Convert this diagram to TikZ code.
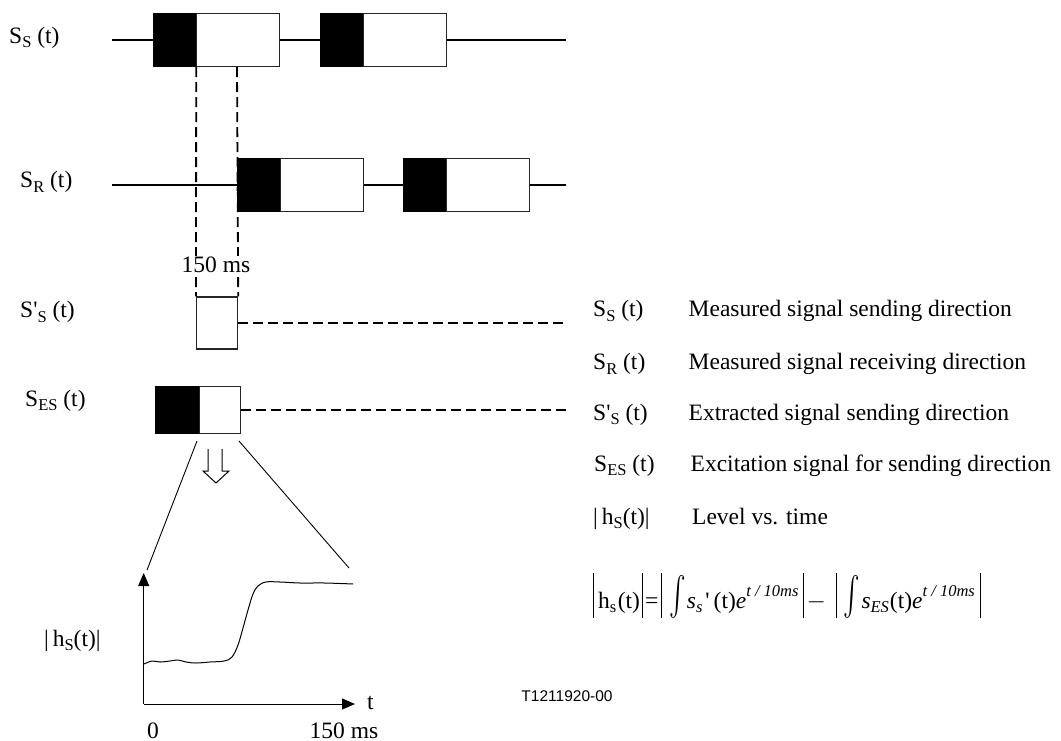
\documentclass[tikz,border=0pt]{standalone}
\usepackage{exscale}
\usepackage{fontspec}
\setmainfont{Liberation Serif}
\newfontfamily\arialfont{Liberation Sans}
\usetikzlibrary{arrows.meta,positioning}

\newcommand{\lowsub}[1]{\raisebox{-0.42ex}{\fontsize{16.5}{16.5}\selectfont #1}}
\newcommand{\expo}[1]{\raisebox{1.05ex}{\fontsize{16.5}{16.5}\selectfont #1}}
\newcommand{\bigint}{\raisebox{0.15ex}{\scalebox{1}[1.55]{$\int$}}}
\newcommand{\vbar}{\rule[-10pt]{1pt}{45pt}}

\begin{document}
\begin{tikzpicture}[
    x=1pt, y=-1pt,
    font=\fontsize{23.5}{28}\selectfont,
    blkpart/.style={rectangle, draw=black, fill=black, line width=1.2pt, inner sep=0pt, minimum width=42pt, minimum height=53pt, anchor=west},
    whtpart/.style={rectangle, draw=black!85, fill=white, line width=1.2pt, inner sep=0pt, minimum width=83pt, minimum height=53pt, anchor=west},
    sigline/.style={line width=1.9pt},
    dashline/.style={line width=1.8pt, dash pattern=on 10pt off 5pt},
    lbl/.style={anchor=base west, inner sep=0pt},
    axis/.style={-{Triangle[length=13pt,width=11pt]}, line width=1pt}
]
    \useasboundingbox (0,0) rectangle (1061,740);

    % Measured signal, sending direction
    \coordinate (ssL) at (112,40);
    \coordinate (ssR) at (566,40);
    \node (ss1a) [blkpart] at (153,40) {};
    \node (ss1b) [whtpart, right=0pt of ss1a] {};
    \node (ss2a) [blkpart] at (319.5,40) {};
    \node (ss2b) [whtpart, right=0pt of ss2a] {};
    \draw [sigline] (ssL) -- (ss1a.west);
    \draw [sigline] (ss1b.east) -- (ss2a.west);
    \draw [sigline] (ss2b.east) -- (ssR);

    % Measured signal, receiving direction
    \coordinate (srL) at (112,185);
    \coordinate (srR) at (566,185);
    \node (sr1a) [blkpart] at (237,185) {};
    \node (sr1b) [whtpart, right=0pt of sr1a] {};
    \node (sr2a) [blkpart] at (403,185) {};
    \node (sr2b) [whtpart, right=0pt of sr2a] {};
    \draw [sigline] (srL) -- (sr1a.west);
    \draw [sigline] (sr1b.east) -- (sr2a.west);
    \draw [sigline] (sr2b.east) -- (srR);

    % Extracted signal
    \node (sx) [whtpart, minimum width=41pt, minimum height=52pt] at (196,323) {};
    \coordinate (sxR) at (566,323);
    \draw [dashline] (sx.east) -- (sxR);
    \draw [dashline] (ss1a.south east) -- (sx.north west);
    \draw [dashline] (sr1a.north west |- ss1a.south) -- (sx.north east);
    \node (dur) [fill=white, inner sep=1pt] at (216,265) {150 ms};

    % Excitation signal
    \node (se1a) [blkpart, minimum width=43pt, minimum height=46.5pt] at (154.5,410) {};
    \node (se1b) [whtpart, minimum width=41.5pt, minimum height=46.5pt, right=0pt of se1a] {};
    \coordinate (seR) at (566,410);
    \draw [dashline] (se1b.east) -- (seR);

    % Zoom lines and hollow arrow
    \coordinate (zl1) at (197,441);
    \coordinate (zl2) at (147,570);
    \coordinate (zr1) at (239,441);
    \coordinate (zr2) at (349,568);
    \draw [line width=0.9pt] (zl1) -- (zl2);
    \draw [line width=0.9pt] (zr1) -- (zr2);
    \draw [line width=1pt] (208,449) -- (208,471) -- (203,471) -- (216,483)
        -- (229,471) -- (222,471) -- (222,449);

    % Level vs. time plot
    \coordinate (orig) at (143.7,704);
    \coordinate (ytop) at (143.7,573);
    \coordinate (xend) at (355,704);
    \draw [axis] (orig) -- (ytop);
    \draw [axis] (orig) -- (xend);
    \draw [line width=1pt] plot [smooth, tension=0.6] coordinates {
        (144,664) (152,661) (160,662) (170,661) (178,660) (186,662) (196,663)
        (210,662) (224,661) (232,657) (238,645) (243,628) (248,610) (253,594)
        (258,586) (266,582) (280,582) (300,583) (325,583) (353,584)};
    \node (tlab) [lbl] at (367,709) {t};
    \node (zero) [lbl, anchor=base] at (153,738) {0};
    \node (endt) [lbl, anchor=base] at (344,738) {150 ms};
    \node (hlab) [lbl] at (44,646) {|\,h\lowsub{S}(t)|};

    % Row labels
    \node (lss) [lbl] at (9,43) {S\lowsub{S} (t)};
    \node (lsr) [lbl] at (20,187.5) {S\lowsub{R} (t)};
    \node (lsx) [lbl] at (20,317.5) {S\textquotesingle\lowsub{S} (t)};
    \node (lse) [lbl] at (25,406) {S\lowsub{ES} (t)};

    % Legend
    \node (k1) [lbl] at (593,316.5) {S\lowsub{S} (t)};
    \node (d1) [lbl] at (688.5,316.5) {Measured signal sending direction};
    \node (k2) [lbl] at (593,369.5) {S\lowsub{R} (t)};
    \node (d2) [lbl] at (688.5,369.5) {Measured signal receiving direction};
    \node (k3) [lbl] at (593,420) {S\textquotesingle\lowsub{S} (t)};
    \node (d3) [lbl] at (688.5,420) {Extracted signal sending direction};
    \node (k4) [lbl] at (594,471) {S\lowsub{ES} (t)};
    \node (d4) [lbl] at (690.5,471) {Excitation signal for sending direction};
    \node (k5) [lbl] at (593,524) {|\,h\lowsub{S}(t)|};
    \node (d5) [lbl] at (692,524) {Level vs. time};
    \node (eqn) [lbl] at (593,608)
        {\vbar\kern4pt h\lowsub{s}\kern1.5pt(t)\kern2pt\vbar\kern2pt=\kern3pt\vbar\kern7pt\bigint\kern1pt{\itshape s\lowsub{s}}\kern3pt\textquotesingle\kern4pt(t){\itshape e\expo{t / 10ms}}\kern4pt\vbar\kern3pt$-$\kern10pt\vbar\kern7pt\bigint\kern1pt{\itshape s\lowsub{ES}}\kern1pt(t){\itshape e\expo{t / 10ms}}\kern5pt\vbar};

    % Figure number
    \node (fig) [font=\arialfont\fontsize{15.5}{18}\selectfont] at (567,696) {T1211920-00};
\end{tikzpicture}
\end{document}
